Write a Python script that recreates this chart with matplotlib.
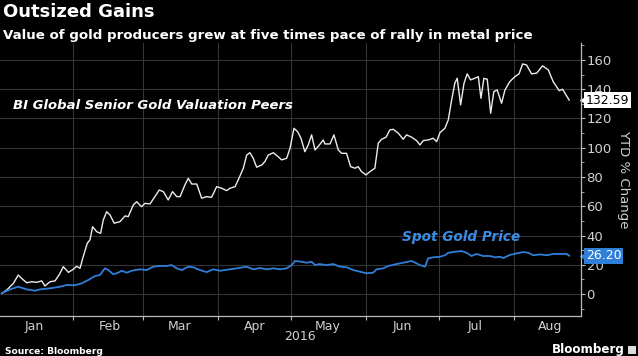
import numpy as np
import pandas as pd
import matplotlib
matplotlib.use("Agg")
import matplotlib.pyplot as plt
import matplotlib.dates as mdates
from matplotlib.patches import Rectangle

# day of year (0 = Jan 1 2016) and YTD % change
peers_day = [1.6, 3.6, 6.4, 8.4, 9.8, 11.9, 13.9, 16.0, 18.1, 19.4, 21.5, 23.6, 25.6, 27.0,
             29.1, 31.1, 32.5, 33.9, 35.2, 36.9, 38.0, 39.1, 40.8, 42.4, 43.5, 44.9, 46.3,
             48.0, 50.4, 52.5, 53.8, 55.9, 57.3, 59.3, 60.7, 62.8, 64.8, 66.6, 68.3, 70.3,
             72.1, 73.8, 75.2, 77.2, 78.6, 80.0, 82.1, 84.1, 86.2, 88.2, 90.3, 92.4, 94.4,
             95.8, 97.9, 99.2, 101.3, 102.7, 104.0, 105.4, 106.8, 108.9, 110.2, 111.6, 113.7,
             115.7, 117.1, 119.2, 120.6, 122.2, 123.7, 125.1, 126.7, 128.1, 129.5, 130.9,
             132.7, 134.3, 135.0, 137.1, 138.7, 140.5, 141.9, 143.9, 145.6, 147.4, 148.7,
             150.1, 151.9, 153.6, 155.6, 157.0, 158.4, 160.2, 161.8, 163.2, 165.3, 167.3,
             168.7, 170.8, 172.8, 174.2, 175.6, 177.6, 179.7, 181.1, 182.5, 184.5, 185.9,
             187.3, 188.6, 189.6, 191.0, 192.4, 193.7, 195.1, 196.9, 198.3, 199.4, 200.6,
             202.0, 203.4, 204.7, 206.1, 207.9, 209.3, 211.3, 213.4, 215.1, 216.6, 218.2,
             220.3, 222.4, 224.8, 227.2, 229.2, 231.7, 233.1, 235.8]
peers_val = [0.5, 2.7, 7.3, 13.0, 10.7, 7.7, 8.4, 8.0, 9.0, 5.5, 8.4, 9.0, 14.0, 18.7,
             14.8, 16.9, 19.0, 17.6, 25.5, 34.7, 37.0, 46.0, 42.6, 41.5, 50.6, 56.3, 54.0,
             48.4, 49.5, 53.4, 52.9, 60.9, 63.1, 59.7, 62.0, 61.6, 66.6, 71.1, 70.0, 64.3,
             70.0, 66.6, 66.6, 74.6, 79.1, 75.2, 75.2, 65.5, 66.6, 66.1, 73.4, 72.3, 70.7,
             72.3, 73.4, 78.0, 86.0, 95.0, 96.6, 92.8, 86.7, 88.2, 90.5, 95.0, 96.6,
             93.9, 91.7, 92.8, 99.7, 113.3, 111.0, 106.5, 97.3, 101.9, 108.8, 98.5,
             101.9, 105.3, 102.6, 102.6, 108.8, 98.5, 96.2, 96.2, 87.1, 86.0, 87.1,
             83.7, 81.4, 83.7, 86.0, 103.1, 105.8, 107.2, 112.2, 112.6, 109.9, 105.8,
             108.8, 107.2, 104.9, 101.9, 104.9, 105.3, 106.5, 104.2, 110.4, 113.3, 119.0,
             132.7, 144.1, 147.5, 129.3, 144.1, 150.5, 146.4, 147.5, 148.6, 133.8, 147.5,
             146.8, 123.6, 138.4, 139.5, 130.4, 139.5, 145.2, 148.6, 150.5, 157.3, 156.6,
             150.5, 151.0, 156.0, 153.2, 145.2, 139.0, 140.0, 132.59]

gold_day = [1.6, 5.0, 8.4, 11.9, 15.3, 17.4, 21.5, 25.6, 28.4, 31.8, 34.6, 37.3, 40.1, 42.1,
            44.2, 45.6, 47.6, 49.7, 51.1, 53.2, 55.2, 58.6, 61.4, 64.1, 66.9, 69.7, 71.7,
            73.8, 75.9, 78.6, 80.6, 83.4, 86.2, 88.9, 91.7, 95.8, 98.6, 102.7, 105.4, 108.2,
            111.0, 113.7, 116.4, 119.2, 121.3, 122.6, 125.4, 127.4, 129.5, 130.9, 132.7,
            135.7, 138.4, 141.2, 143.9, 146.7, 149.4, 152.2, 154.9, 156.3, 159.1, 161.1,
            164.6, 168.7, 170.8, 172.8, 174.2, 176.3, 177.6, 179.7, 182.5, 184.5, 185.9,
            188.6, 191.4, 193.5, 195.5, 197.6, 200.3, 203.1, 205.2, 207.2, 208.6, 211.3,
            214.1, 216.8, 218.9, 221.0, 223.7, 226.5, 229.2, 232.0, 234.8, 235.8]
gold_val = [0.5, 3.2, 5.0, 3.2, 2.3, 3.2, 3.9, 5.0, 6.2, 6.0, 7.3, 9.6, 12.3, 13.0,
            17.6, 16.4, 13.5, 14.6, 15.9, 14.6, 15.9, 16.9, 16.4, 18.7, 19.2, 19.2, 19.8,
            17.6, 16.4, 18.7, 18.3, 16.4, 15.0, 16.9, 15.9, 16.9, 17.6, 18.7, 16.9, 17.8,
            16.9, 17.6, 16.9, 17.6, 19.8, 22.6, 22.1, 21.4, 22.1, 19.8, 20.5,
            19.8, 20.5, 18.7, 18.3, 16.4, 15.3, 14.2, 14.6, 16.9, 17.6, 19.2,
            20.5, 21.9, 22.6, 21.0, 19.8, 18.7, 24.4, 25.1, 25.5, 26.5, 28.2,
            28.9, 29.4, 28.2, 26.0, 27.4, 26.0, 26.0, 25.1, 25.5, 24.6, 26.7,
            27.8, 28.7, 28.2, 26.5, 27.1, 26.5, 27.4, 27.4, 27.4, 26.20]

yticks = [0, 20, 40, 60, 80, 100, 120, 140, 160]
month_starts = ["2016-02-01", "2016-03-01", "2016-04-01", "2016-05-01",
                "2016-06-01", "2016-07-01", "2016-08-01"]
month_labels = ["Jan", "Feb", "Mar", "Apr", "May", "Jun", "Jul", "Aug"]

start = pd.Timestamp("2016-01-01")
peers_x = start + pd.to_timedelta(peers_day, unit="D")
gold_x = start + pd.to_timedelta(gold_day, unit="D")

WHITE = "#ececec"
BLUE = "#2f7ed8"
GRID = "#353535"
TXT = "#d0d0d0"

fig = plt.figure(figsize=(6.38, 3.56), dpi=100, facecolor="black")
ax = fig.add_axes([0.0, 0.1124, 0.9107, 0.7668], facecolor="black")

ax.plot(peers_x, peers_val, color=WHITE, lw=1.0)
ax.plot(gold_x, gold_val, color=BLUE, lw=1.3)

ax.set_xlim(start + pd.Timedelta(days=0.87), start + pd.Timedelta(days=240.7))
ax.set_ylim(-15, 171.6)

# y axis on the right
ax.yaxis.tick_right()
ax.set_yticks(yticks)
ax.set_yticks(np.arange(-10, 171, 10), minor=True)
ax.tick_params(axis="y", which="major", colors="#bbbbbb", labelcolor=TXT,
               labelsize=9.5, length=3, width=0.8, pad=1)
ax.tick_params(axis="y", which="minor", colors="#bbbbbb", length=2, width=0.6)
ax.yaxis.set_label_position("right")
ax.set_ylabel("YTD % Change", color=TXT, fontsize=9.5, rotation=270, labelpad=13)

# months: grid at month starts, labels mid-month
ax.set_xticks(pd.to_datetime(month_starts))
ax.xaxis.set_major_formatter(mdates.DateFormatter(""))
mid = [pd.Timestamp(2016, m, 1) + pd.Timedelta(days=15) for m in range(1, 9)]
ax.set_xticks(mid, minor=True)
ax.set_xticklabels(month_labels, minor=True)
ax.tick_params(axis="x", which="major", colors="#bbbbbb", length=3, width=0.8,
               direction="out")
ax.tick_params(axis="x", which="minor", length=0, labelcolor=TXT, labelsize=9, pad=3)

ax.grid(True, which="major", color=GRID, lw=0.8)
for s in ["top", "left"]:
    ax.spines[s].set_visible(False)
for s in ["right", "bottom"]:
    ax.spines[s].set_color("#bbbbbb")
    ax.spines[s].set_linewidth(0.9)

# series labels
ax.text(0.022, 0.77, "BI Global Senior Gold Valuation Peers", transform=ax.transAxes,
        color="white", fontsize=9.5, fontweight="bold", style="italic", va="center")
ax.text(0.692, 0.29, "Spot Gold Price", transform=ax.transAxes,
        color="#3b8de8", fontsize=9.8, fontweight="bold", style="italic", va="center")

# last-value tags
ax.annotate(f"{peers_val[-1]:.2f}", xy=(1.0, peers_val[-1]), xycoords=("axes fraction", "data"),
            xytext=(3.5, 0), textcoords="offset points", va="center", ha="left",
            fontsize=9, color="black",
            bbox=dict(boxstyle="square,pad=0.12", fc="white", ec="none"))
ax.annotate(f"{gold_val[-1]:.2f}", xy=(1.0, gold_val[-1]), xycoords=("axes fraction", "data"),
            xytext=(3.5, 0), textcoords="offset points", va="center", ha="left",
            fontsize=9, color="white",
            bbox=dict(boxstyle="square,pad=0.12", fc=BLUE, ec="none"))
ax.plot([1.003], [peers_val[-1]], marker="<", ms=4.5, color="white",
        transform=ax.get_yaxis_transform(), clip_on=False)
ax.plot([1.003], [gold_val[-1]], marker="<", ms=4.5, color=BLUE,
        transform=ax.get_yaxis_transform(), clip_on=False)

# titles and footer
fig.text(0.004, 0.967, "Outsized Gains", color="white", fontsize=13,
         fontweight="bold", va="center")
fig.text(0.004, 0.9, "Value of gold producers grew at five times pace of rally in metal price",
         color="white", fontsize=9.6, fontweight="bold", va="center")
fig.text(0.47, 0.054, "2016", color=TXT, fontsize=9, ha="center", va="center")
fig.text(0.008, 0.014, "Source: Bloomberg", color="white", fontsize=6.6,
         fontweight="bold", va="center")
fig.text(0.98, 0.017, "Bloomberg", color="white", fontsize=8.6, fontweight="bold",
         ha="right", va="center")
fig.patches.append(Rectangle((0.985, 0.005), 0.012, 0.024, transform=fig.transFigure,
                             fc="#dddddd", ec="none"))

fig.savefig("out.png", dpi=100, facecolor="black")
